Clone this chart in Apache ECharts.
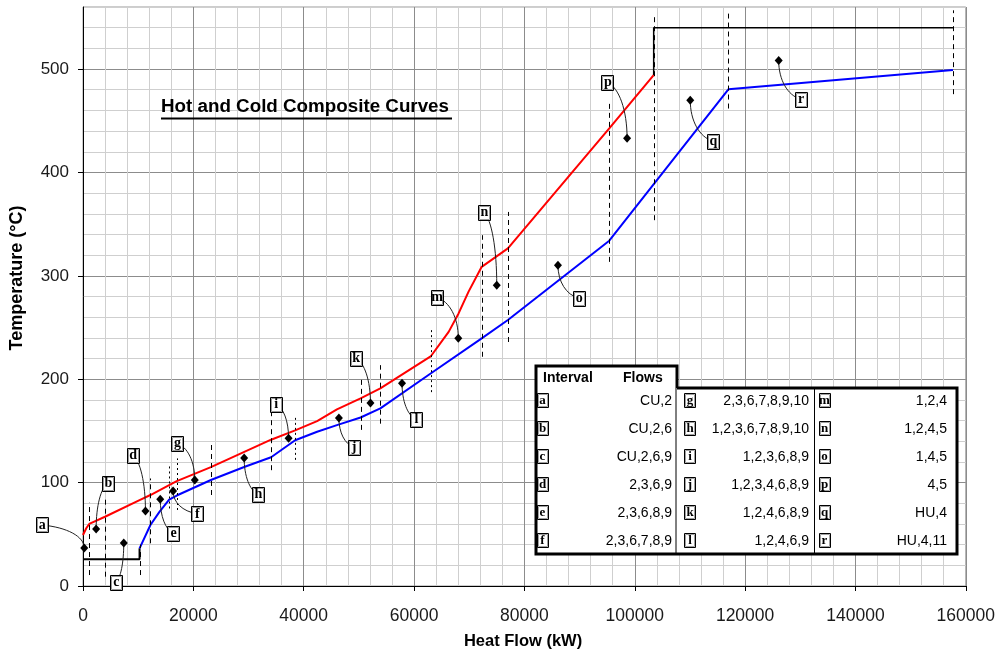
<!DOCTYPE html>
<html><head><meta charset="utf-8">
<script src="https://cdn.jsdelivr.net/npm/echarts@6/dist/echarts.min.js"></script>
<style>html,body{margin:0;padding:0;background:#fff}#c{width:998px;height:657px}</style>
</head><body><div id="c"></div>
<script>
// ---- data ----
const hotKW = [0, 590, 1127, 3990, 10250, 12220, 15610, 16990, 23180, 34090, 38450, 42430, 46020, 50310, 53890, 63010, 66270, 68070, 69860, 72260, 77010, 95380, 103430];
const hotT  = [49.3, 55.8, 60, 67, 83.1, 88, 97.6, 101.5, 115, 141.5, 150.5, 159.5, 170.8, 181.4, 191.1, 222, 245.8, 263.6, 284.5, 308.7, 326.6, 442.6, 494.2];
const coldKW = [10250, 12220, 13820, 15610, 16990, 23180, 29330, 34090, 38450, 42430, 46020, 50310, 53890, 63010, 72260, 77010, 95380, 116970, 157670];
const coldT  = [36.4, 59, 71.5, 83.5, 87.5, 102.5, 115.3, 124.5, 141, 149.2, 155.6, 163, 171.8, 205.5, 239.5, 257.3, 334, 480.4, 499];
const coldUtilKW = [0, 10250, 10250];
const coldUtilT  = [25.8, 25.8, 36.4];
const hotUtilKW = [103430, 103430, 157670];
const hotUtilT  = [494.2, 540, 540];

const dashKW = [1127, 3990, 10250, 12220, 15610, 16990, 23180, 34090, 38450, 50310, 53890, 63010, 72260, 77010, 95380, 103430, 116970, 157670];
const dashLo = [10.6, 9, 10.6, 41.3, 75, 73.5, 88, 112, 122, 151, 157, 187.5, 221.7, 236, 313.5, 353.8, 461.8, 475.7];
const dashHi = [80.5, 86.3, 40, 104, 117, 123.4, 139.5, 170, 165, 202, 213.6, 249.4, 339.3, 361.8, 466.6, 553.6, 553.6, 556.8];
const dashKind = ['dash','dash','dash','dash','dot','dot','dash','dash','dot','dash','dash','dot','dash','dash','dash','dash','dash','dash'];

const annLetter = ['a','b','c','d','e','f','g','h','i','j','k','l','m','n','o','p','q','r'];
const annPtKW  = [230, 2380, 7390, 11320, 14000, 16330, 20260, 29210, 37260, 46380, 52100, 57820, 68020, 74990, 86080, 98610, 110060, 126090];
const annPtT   = [36.7, 55.1, 41.6, 72.5, 84, 91.8, 102.5, 123.7, 143, 162.4, 176.9, 196.2, 239.7, 290.9, 310.3, 433.1, 469.8, 508.2];
const annLblKW = [-7460, 4520, 5960, 9000, 16330, 20620, 17040, 31710, 34930, 49060, 49420, 60330, 64090, 72670, 89840, 95040, 114170, 130080];
const annLblT  = [59, 99.6, 3.5, 126.7, 51.2, 70, 138, 88.9, 176, 134.4, 220.4, 161.4, 279.3, 361.5, 278.4, 487.2, 430.2, 470.8];

const intervalLetters = ['a','b','c','d','e','f','g','h','i','j','k','l','m','n','o','p','q','r'];
const intervalFlows = ['CU,2','CU,2,6','CU,2,6,9','2,3,6,9','2,3,6,8,9','2,3,6,7,8,9',
  '2,3,6,7,8,9,10','1,2,3,6,7,8,9,10','1,2,3,6,8,9','1,2,3,4,6,8,9','1,2,4,6,8,9','1,2,4,6,9',
  '1,2,4','1,2,4,5','1,4,5','4,5','HU,4','HU,4,11'];

const xTickLabels = [0, 20000, 40000, 60000, 80000, 100000, 120000, 140000, 160000];
const yTickLabels = [0, 100, 200, 300, 400, 500];

const zip = (a, b) => a.map((v, i) => [v, b[i]]);

// ---- chart ----
const chart = echarts.init(document.getElementById('c'), null, {renderer: 'canvas'});
const FONT = '"Liberation Sans", Arial, sans-serif';
const minorCols = ['#8c8c8c', '#cfcfcf', '#cfcfcf', '#cfcfcf', '#cfcfcf'];

// table graphic (each element placed above the plot)
const tbl = [];
const TZ = 200;
const tL = 536, tR = 957, tTabR = 677, tTabTop = 366, tTop = 388, tBot = 554;
tbl.push({type: 'rect', z: TZ, shape: {x: tL, y: tTabTop, width: tTabR - tL, height: tBot - tTabTop}, style: {fill: '#fff'}});
tbl.push({type: 'rect', z: TZ, shape: {x: tL, y: tTop, width: tR - tL, height: tBot - tTop}, style: {fill: '#fff'}});
tbl.push({type: 'polyline', z: TZ + 2, shape: {points: [[tTabR, tTop], [tR, tTop], [tR, tBot], [tL, tBot], [tL, tTabTop], [tTabR, tTabTop], [tTabR, tTop]]}, style: {stroke: '#000', lineWidth: 3, fill: null}});
tbl.push({type: 'line', z: TZ + 1, shape: {x1: 676, y1: tTop, x2: 676, y2: tBot}, style: {stroke: '#000', lineWidth: 1}});
tbl.push({type: 'line', z: TZ + 1, shape: {x1: 814.5, y1: tTop, x2: 814.5, y2: tBot}, style: {stroke: '#000', lineWidth: 1}});
tbl.push({type: 'text', z: TZ + 1, style: {text: 'Interval', x: 543, y: 378, font: 'bold 14px ' + FONT, fill: '#000', verticalAlign: 'middle'}});
tbl.push({type: 'text', z: TZ + 1, style: {text: 'Flows', x: 623, y: 378, font: 'bold 14px ' + FONT, fill: '#000', verticalAlign: 'middle'}});
const colLetterX = [542, 689.5, 824];
const colTextR = [672, 809, 947];
intervalLetters.forEach((L, i) => {
  const col = Math.floor(i / 6), row = i % 6;
  const cy = 400 + row * 28;
  const cx = colLetterX[col];
  tbl.push({type: 'rect', z: TZ + 1, shape: {x: Math.round(cx - 5.5) + 0.5, y: Math.round(cy - 7) + 0.5, width: 11, height: 14}, style: {fill: '#fff', stroke: '#000', lineWidth: 1}});
  tbl.push({type: 'rect', z: TZ + 1, shape: {x: Math.round(cx - 5.5) + 1.5, y: Math.round(cy - 7) + 1.5, width: 9, height: 12}, style: {fill: null, stroke: '#a0a0a0', lineWidth: 1}});
  tbl.push({type: 'text', z: TZ + 2, style: {text: L, x: cx + 0.5, y: cy + 0.5, font: 'bold 13px "Liberation Serif", serif', fill: '#000', align: 'center', verticalAlign: 'middle'}});
  tbl.push({type: 'text', z: TZ + 2, style: {text: intervalFlows[i], x: colTextR[col], y: cy + 1, font: '14px ' + FONT, fill: '#000', align: 'right', verticalAlign: 'middle'}});
});

const option = {
  animation: false,
  backgroundColor: '#fff',
  grid: {left: 83, right: 21, top: 7, bottom: 71, show: true, borderColor: '#9a9a9a', borderWidth: 1, backgroundColor: '#fff'},
  xAxis: [
    {type: 'value', min: 0, max: 160000, interval: 4000, axisLine: {show: true, onZero: false, lineStyle: {color: '#000', width: 1}},
     axisTick: {show: false}, axisLabel: {show: false}, splitLine: {show: true, lineStyle: {color: minorCols, width: 1}}},
    {type: 'value', min: 0, max: 160000, interval: 20000, position: 'bottom', axisLine: {show: false},
     axisTick: {show: true, length: 5, inside: false, lineStyle: {color: '#000'}},
     axisLabel: {show: true, margin: 21, fontSize: 17.5, fontFamily: FONT, color: '#1a1a1a',
       formatter: v => xTickLabels.indexOf(v) >= 0 ? String(v) : ''},
     splitLine: {show: false}}
  ],
  yAxis: [
    {type: 'value', min: 0, max: 560, interval: 20, axisLine: {show: true, onZero: false, lineStyle: {color: '#000', width: 1}},
     axisTick: {show: false}, axisLabel: {show: false}, splitLine: {show: true, lineStyle: {color: minorCols, width: 1}}},
    {type: 'value', min: 0, max: 560, interval: 100, position: 'left', axisLine: {show: false},
     axisTick: {show: true, length: 5, lineStyle: {color: '#000'}},
     axisLabel: {show: true, margin: 14, fontSize: 17, fontFamily: FONT, color: '#1a1a1a', showMaxLabel: false,
       formatter: v => yTickLabels.indexOf(v) >= 0 ? String(v) : ''},
     splitLine: {show: false}}
  ],
  graphic: [
    {type: 'text', left: 161, top: 97, z: 50, style: {text: 'Hot and Cold Composite Curves', font: 'bold 18.8px ' + FONT, fill: '#000'}},
    {type: 'rect', z: 50, shape: {x: 161, y: 117.5, width: 291, height: 2}, style: {fill: '#000'}},
    {type: 'text', z: 50, x: 17, y: 278, rotation: Math.PI / 2, style: {text: 'Temperature (°C)', font: 'bold 18px ' + FONT, fill: '#000', align: 'center', verticalAlign: 'middle'}},
    {type: 'text', z: 50, x: 523, y: 641, style: {text: 'Heat Flow (kW)', font: 'bold 16.5px ' + FONT, fill: '#000', align: 'center', verticalAlign: 'middle'}},
    {type: 'group', z: TZ, children: tbl}
  ],
  series: [
    {type: 'line', name: 'Hot', data: zip(hotKW, hotT), symbol: 'none', lineStyle: {color: '#ff0000', width: 2}, z: 5},
    {type: 'line', name: 'Cold', data: zip(coldKW, coldT), symbol: 'none', lineStyle: {color: '#0000ff', width: 2}, z: 5},
    {type: 'line', name: 'CU', data: zip(coldUtilKW, coldUtilT), symbol: 'none', lineStyle: {color: '#000', width: 2}, z: 4},
    {type: 'line', name: 'HU', data: zip(hotUtilKW, hotUtilT), symbol: 'none', lineStyle: {color: '#000', width: 1.5}, z: 4},
    {type: 'custom', name: 'bounds', z: 6, clip: false,
     data: dashKW.map((k, i) => [k, dashLo[i], dashHi[i]]),
     encode: {x: 0, y: [1, 2]},
     renderItem: (params, api) => {
       const p1 = api.coord([api.value(0), api.value(1)]);
       const p2 = api.coord([api.value(0), api.value(2)]);
       const dot = dashKind[params.dataIndex] === 'dot';
       const x = Math.round(p1[0]) + 0.5;
       return {type: 'line', shape: {x1: x, y1: p1[1], x2: x, y2: p2[1]},
         style: {stroke: '#000', lineWidth: 1, lineDash: dot ? [2, 3] : [5, 4]}};
     }},
    {type: 'custom', name: 'labels', z: 8, clip: false,
     data: annPtKW.map((k, i) => [k, annPtT[i], annLblKW[i], annLblT[i]]),
     encode: {x: [0, 2], y: [1, 3]},
     renderItem: (params, api) => {
       const d = api.coord([api.value(0), api.value(1)]);
       const l = api.coord([api.value(2), api.value(3)]);
       const c1 = [l[0] + (d[0] - l[0]) * 0.6, l[1] + (d[1] - l[1]) * 0.1];
       const c2 = [d[0], l[1] + (d[1] - l[1]) * 0.5];
       const w = 12, h = 15;
       return {type: 'group', children: [
         {type: 'bezierCurve', shape: {x1: l[0], y1: l[1], x2: d[0], y2: d[1], cpx1: c1[0], cpy1: c1[1], cpx2: c2[0], cpy2: c2[1]},
          style: {stroke: '#222', lineWidth: 1, fill: null}},
         {type: 'polygon', shape: {points: [[d[0], d[1] - 4.5], [d[0] + 4, d[1]], [d[0], d[1] + 4.5], [d[0] - 4, d[1]]]}, style: {fill: '#000'}},
         {type: 'rect', shape: {x: Math.round(l[0] - w / 2) + 0.5, y: Math.round(l[1] - h / 2) + 0.5, width: w, height: h}, style: {fill: '#fff', stroke: '#000', lineWidth: 1}},
         {type: 'rect', shape: {x: Math.round(l[0] - w / 2) + 1.5, y: Math.round(l[1] - h / 2) + 1.5, width: w - 2, height: h - 2}, style: {fill: null, stroke: '#999', lineWidth: 1}},
         {type: 'text', style: {text: annLetter[params.dataIndex], x: l[0] + 0.5, y: l[1] + 0.5, font: 'bold 14px "Liberation Serif", serif', fill: '#000', align: 'center', verticalAlign: 'middle'}}
       ]};
     }}
  ]
};
chart.setOption(option);
</script></body></html>
